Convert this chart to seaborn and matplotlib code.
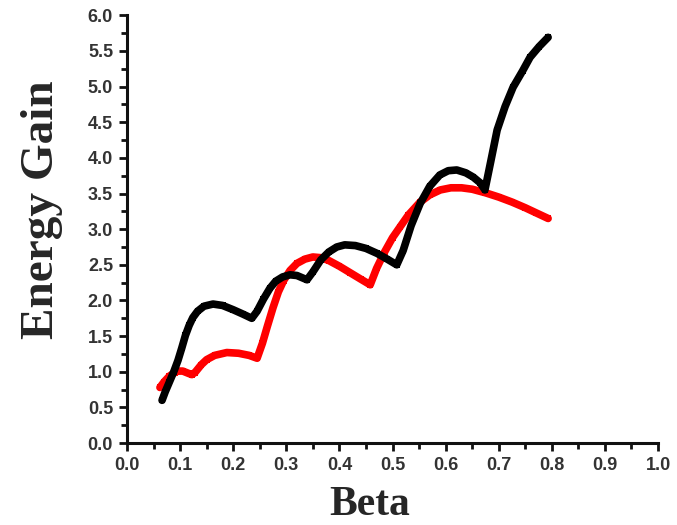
import numpy as np
import pandas as pd
import seaborn as sns
import matplotlib
matplotlib.use("Agg")
import matplotlib.pyplot as plt
from matplotlib.ticker import MultipleLocator

# Red series (Beta, Energy Gain)
red_beta = [0.062, 0.070, 0.080, 0.090, 0.096, 0.105, 0.115, 0.122, 0.128, 0.140,
            0.150, 0.165, 0.188, 0.210, 0.230, 0.245, 0.255, 0.264, 0.275, 0.285,
            0.295, 0.307, 0.320, 0.335, 0.350, 0.365, 0.380, 0.400, 0.420, 0.440,
            0.458, 0.470, 0.485, 0.500, 0.514, 0.530, 0.552, 0.570, 0.590, 0.610,
            0.630, 0.650, 0.675, 0.700, 0.725, 0.750, 0.770, 0.793]
red_gain = [0.78, 0.86, 0.94, 0.99, 1.01, 1.01, 0.98, 0.96, 0.99, 1.10,
            1.17, 1.23, 1.27, 1.26, 1.23, 1.19, 1.40, 1.63, 1.90, 2.12,
            2.28, 2.42, 2.52, 2.58, 2.61, 2.60, 2.56, 2.48, 2.39, 2.30,
            2.22, 2.45, 2.68, 2.88, 3.03, 3.20, 3.38, 3.48, 3.55, 3.58,
            3.58, 3.56, 3.51, 3.45, 3.38, 3.30, 3.23, 3.15]

# Black series (Beta, Energy Gain)
black_beta = [0.066, 0.072, 0.080, 0.088, 0.096, 0.103, 0.110, 0.117, 0.124, 0.133,
              0.145, 0.162, 0.180, 0.200, 0.218, 0.235, 0.245, 0.257, 0.269, 0.280,
              0.293, 0.307, 0.320, 0.339, 0.350, 0.365, 0.380, 0.395, 0.410, 0.430,
              0.450, 0.471, 0.490, 0.508, 0.520, 0.535, 0.552, 0.570, 0.589, 0.605,
              0.621, 0.638, 0.652, 0.665, 0.674, 0.685, 0.697, 0.712, 0.727, 0.745,
              0.759, 0.776, 0.793]
black_gain = [0.60, 0.72, 0.86, 1.00, 1.16, 1.33, 1.51, 1.65, 1.76, 1.85,
              1.92, 1.95, 1.93, 1.87, 1.81, 1.75, 1.85, 2.02, 2.17, 2.27,
              2.33, 2.36, 2.35, 2.29, 2.40, 2.57, 2.68, 2.75, 2.78, 2.77,
              2.73, 2.66, 2.58, 2.50, 2.70, 3.05, 3.36, 3.60, 3.76, 3.82,
              3.83, 3.79, 3.73, 3.65, 3.55, 3.95, 4.39, 4.72, 4.99, 5.22,
              5.41, 5.56, 5.69]

df = pd.concat([
    pd.DataFrame({"Beta": red_beta, "Gain": red_gain, "series": "red"}),
    pd.DataFrame({"Beta": black_beta, "Gain": black_gain, "series": "black"}),
])

sns.set_style("ticks")
fig = plt.figure(figsize=(6.77, 5.25), dpi=100)
ax = fig.add_axes([0.1876, 0.156, 0.7844, 0.815])

sns.lineplot(data=df, x="Beta", y="Gain", hue="series",
             palette={"red": "#ff0000", "black": "#000000"},
             hue_order=["red", "black"],
             linewidth=5.5, sort=False, estimator=None, legend=False, ax=ax,
             marker="s", markersize=5, markeredgewidth=0)

ax.set_xlim(0, 1.0)
ax.set_ylim(0, 6.0)
ax.xaxis.set_major_locator(MultipleLocator(0.1))
ax.xaxis.set_minor_locator(MultipleLocator(0.05))
ax.yaxis.set_major_locator(MultipleLocator(0.5))
ax.yaxis.set_minor_locator(MultipleLocator(0.25))

for s in ["top", "right"]:
    ax.spines[s].set_visible(False)
for s in ["left", "bottom"]:
    ax.spines[s].set_linewidth(2.2)
    ax.spines[s].set_color("#111111")

ax.tick_params(which="major", direction="out", length=6, width=2, color="#111111",
               labelsize=13, labelcolor="#333333", pad=4)
ax.tick_params(which="minor", direction="out", length=4, width=2, color="#111111")
ax.set_xticks(np.arange(0, 1.01, 0.1))
ax.set_yticks(np.arange(0, 6.01, 0.5))
ax.set_xticklabels([f"{v:.1f}" for v in ax.get_xticks()])
ax.set_yticklabels([f"{v:.1f}" for v in ax.get_yticks()])
for lab in ax.get_xticklabels() + ax.get_yticklabels():
    lab.set_fontfamily("Liberation Sans")
    lab.set_fontweight("bold")

ax.set_xlabel("Beta", fontfamily="Liberation Serif", fontweight="bold",
              fontsize=30)
ax.set_ylabel("Energy Gain", fontfamily="Liberation Serif", fontweight="bold",
              fontsize=34)
ax.xaxis.set_label_coords((370 - 127) / 531, -(515 - 443) / 428, transform=ax.transAxes)
ax.xaxis.label.set_va("baseline")
ax.yaxis.set_label_coords(-(127 - 42) / 531, (443 - 210) / 428, transform=ax.transAxes)
ax.yaxis.label.set_va("center")

fig.savefig("out.png", dpi=100)
